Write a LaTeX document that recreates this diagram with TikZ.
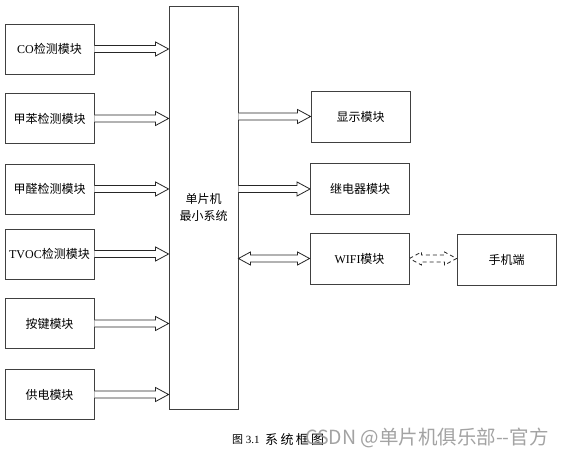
\documentclass[tikz,border=0pt]{standalone}
\usepackage{fontspec}
\setmainfont{Liberation Serif}
\newfontfamily\cjk{Noto Sans CJK SC}
\usetikzlibrary{calc}
\tikzset{
  box/.style={draw=black!75, line width=0.9pt, rectangle, inner sep=0pt, font=\fontsize{12}{14}\selectfont},
  lbox/.style={box, minimum width=89pt, minimum height=50pt},
  rbox/.style={box, minimum width=99pt, minimum height=51pt},
  arr/.style={draw=black!85, line width=0.8pt, fill=white, line join=miter},
  darr/.style={arr, dash pattern=on 4pt off 3pt},
}
% hollow arrow from #1 to #2 (horizontal, at y of #1)
\newcommand\fatR[2]{\draw[arr] let \p1=(#1), \p2=(#2) in
  (\x1,{\y1+3.5pt}) -- ({\x2-13pt},{\y1+3.5pt}) -- ({\x2-13pt},{\y1+7pt}) -- (\x2,\y1)
  -- ({\x2-13pt},{\y1-7pt}) -- ({\x2-13pt},{\y1-3.5pt}) -- (\x1,{\y1-3.5pt});}
\newcommand\fatLR[3]{\draw[#3] let \p1=(#1), \p2=(#2) in
  (\x1,\y1) -- ({\x1+12pt},{\y1+6.5pt}) -- ({\x1+12pt},{\y1+3.5pt}) -- ({\x2-12pt},{\y1+3.5pt})
  -- ({\x2-12pt},{\y1+6.5pt}) -- (\x2,\y1) -- ({\x2-12pt},{\y1-6.5pt}) -- ({\x2-12pt},{\y1-3.5pt})
  -- ({\x1+12pt},{\y1-3.5pt}) -- ({\x1+12pt},{\y1-6.5pt}) -- cycle;}
\begin{document}
\begin{tikzpicture}[x=1pt,y=-1pt]
\useasboundingbox[fill=white] (0,0) rectangle (563,457);
% central box
\node[box, minimum width=69pt, minimum height=403pt, align=center] (mcu) at (203.5,207.5) {\cjk 单片机\\[3pt]\cjk 最小系统};
% left boxes
\node[lbox] (co)   at (49.5,49)    {CO{\cjk 检测模块}};
\node[lbox] (jb)   at (49.5,118.5) {\cjk 甲苯检测模块};
\node[lbox] (jq)   at (49.5,189)   {\cjk 甲醛检测模块};
\node[lbox] (tvoc) at (49.5,254)   {TVOC{\cjk 检测模块}};
\node[lbox] (aj)   at (49.5,323.5) {\cjk 按键模块};
\node[lbox] (gd)   at (49.5,394.5) {\cjk 供电模块};
% right boxes
\node[rbox] (xs)   at (360.5,116.5) {\cjk 显示模块};
\node[rbox] (jdq)  at (360,189)     {\cjk 继电器模块};
\node[rbox] (wifi) at (359.5,258.5) {WIFI{\cjk 模块}};
\node[rbox] (sj)   at (506.5,260)   {\cjk 手机端};
% arrows into MCU
\foreach \b in {co,jb,jq,tvoc,aj,gd}{ \fatR{\b.east}{mcu.west |- \b.east} }
% arrows out of MCU
\fatR{mcu.east |- xs.west}{xs.west}
\fatR{mcu.east |- jdq.west}{jdq.west}
\fatLR{mcu.east |- wifi.west}{wifi.west}{arr}
\fatLR{wifi.east}{sj.west |- wifi.east}{darr}
% caption
\node[font=\fontsize{11}{13}\selectfont, anchor=west, inner sep=0pt] (cap) at (232,440) {{\cjk 图} 3.1};
\node[font=\fontsize{13}{15}\selectfont, anchor=west, inner sep=0pt] (cap2) at (265,440) {\cjk\addfontfeature{LetterSpace=18}系统框图};
\node[font=\fontsize{19.5}{22}\selectfont, text=black!40, anchor=west, inner sep=0pt, opacity=0.9] (wm) at (305,438) {\cjk CSDN @单片机俱乐部--官方};
\end{tikzpicture}
\end{document}
